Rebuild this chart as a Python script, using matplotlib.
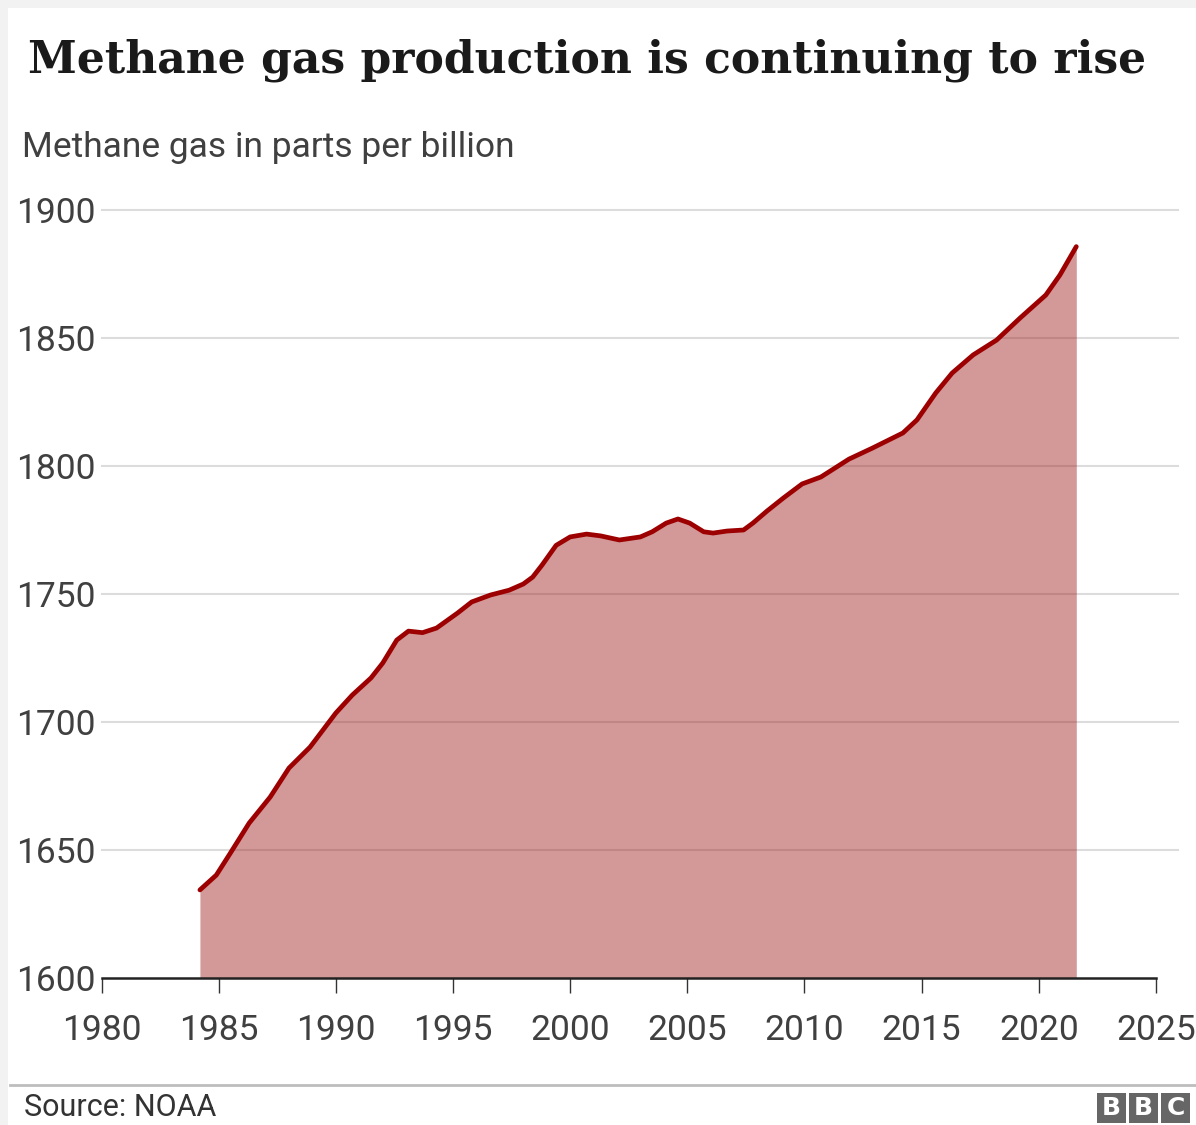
import matplotlib
matplotlib.use("Agg")
import matplotlib.pyplot as plt
from matplotlib.patches import Rectangle

# values (year, ppb)
years = [1984.2, 1984.9, 1985.5, 1986.3, 1987.2, 1988.0, 1988.9, 1990.0, 1990.7,
         1991.5, 1992.0, 1992.6, 1993.1, 1993.7, 1994.3, 1995.2, 1995.8, 1996.6,
         1997.4, 1998.0, 1998.4, 1998.8, 1999.4, 2000.0, 2000.7, 2001.3, 2002.1,
         2003.0, 2003.5, 2004.1, 2004.6, 2005.1, 2005.7, 2006.1, 2006.7, 2007.4,
         2007.8, 2008.4, 2009.1, 2009.9, 2010.7, 2011.9, 2012.9, 2014.2, 2014.8,
         2015.6, 2016.3, 2017.2, 2018.2, 2019.2, 2020.3, 2020.9, 2021.6]
methane = [1634.4, 1640.2, 1648.8, 1660.5, 1670.7, 1682.0, 1690.2, 1703.5, 1710.5,
           1717.2, 1723.0, 1732.0, 1735.5, 1734.9, 1736.7, 1742.6, 1746.9, 1749.6,
           1751.5, 1753.9, 1756.6, 1761.3, 1769.0, 1772.3, 1773.4, 1772.7, 1771.1,
           1772.3, 1774.3, 1777.7, 1779.3, 1777.7, 1774.3, 1773.8, 1774.6, 1775.0,
           1777.7, 1782.4, 1787.5, 1793.0, 1795.7, 1802.7, 1807.0, 1812.9, 1818.0,
           1828.5, 1836.3, 1843.4, 1849.2, 1857.8, 1866.8, 1874.6, 1885.7]

x_ticks = [1980, 1985, 1990, 1995, 2000, 2005, 2010, 2015, 2020, 2025]
y_ticks = [1600, 1650, 1700, 1750, 1800, 1850, 1900]

W, H = 1196, 1125
fig = plt.figure(figsize=(W / 100, H / 100), dpi=100)
fig.patch.set_facecolor("#f2f2f2")

def fx(px):
    return px / W

def fy(py):
    return 1 - py / H

# white card behind everything
fig.patches.append(Rectangle((fx(8), 0), 1, fy(8), transform=fig.transFigure,
                             facecolor="white", edgecolor="none", zorder=-10))

ax = fig.add_axes([fx(101.5), fy(978), fx(1178) - fx(101.5), fy(210) - fy(978)])
ax.set_facecolor("none")

ax.fill_between(years, 1600, methane, color="#9f1c1c", alpha=0.45, lw=0, zorder=2)
ax.plot(years, methane, color="#9c0000", lw=3.4, solid_capstyle="round",
        solid_joinstyle="round", zorder=3)

ax.set_xlim(1980, 2025.94)
ax.set_ylim(1600, 1900)
ax.set_xticks(x_ticks)
ax.set_yticks(y_ticks)

for v in y_ticks[1:]:
    ax.axhline(v, color="#dcdcdc", lw=1.5, zorder=1, clip_on=False)

for s in ["top", "right", "left"]:
    ax.spines[s].set_visible(False)
ax.spines["bottom"].set_bounds(1980, 2025)
ax.spines["bottom"].set_color("#222222")
ax.spines["bottom"].set_linewidth(1.8)
ax.spines["bottom"].set_zorder(4)

ax.tick_params(axis="x", direction="out", length=11, width=1, color="#333333",
               pad=15, labelsize=25.5, labelcolor="#404040")
ax.tick_params(axis="y", length=0, pad=4, labelsize=25.5, labelcolor="#404040")
for lab in ax.get_xticklabels() + ax.get_yticklabels():
    lab.set_family("Roboto")

fig.text(fx(28), fy(60), "Methane gas production is continuing to rise",
         family="DejaVu Serif", fontweight="bold", fontsize=31.8, color="#1a1a1a",
         va="center", ha="left")
fig.text(fx(22), fy(147), "Methane gas in parts per billion", family="Roboto",
         fontsize=25.5, color="#404040", va="center", ha="left")

# footer
fig.lines.append(plt.Line2D([fx(10), 1], [fy(1085), fy(1085)], transform=fig.transFigure,
                            color="#bdbdbd", lw=2))
fig.text(fx(24), fy(1107), "Source: NOAA", family="Roboto",
         fontsize=22, color="#333333", va="center", ha="left")

for i, letter in enumerate("BBC"):
    x0 = 1097 + i * 32
    fig.patches.append(Rectangle((fx(x0), fy(1123)), fx(29), fy(1093) - fy(1123),
                                 transform=fig.transFigure, facecolor="#666666",
                                 edgecolor="none"))
    fig.text(fx(x0 + 14.5), fy(1108), letter, family="DejaVu Sans", fontweight="bold",
             fontsize=18, color="white", ha="center", va="center")

fig.savefig("out.png", dpi=100, facecolor=fig.get_facecolor())
